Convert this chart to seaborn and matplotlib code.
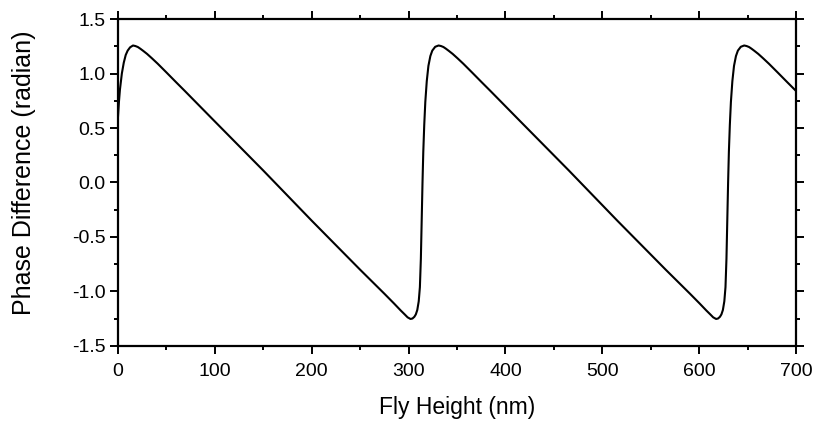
import numpy as np
import pandas as pd
import matplotlib
matplotlib.use('Agg')
import matplotlib.pyplot as plt
from matplotlib.ticker import MultipleLocator, FormatStrFormatter
import seaborn as sns

# values (fly height in nm, phase in radian)
fly_height = [0, 1, 2, 4, 6, 8, 10, 12.5, 15.5, 18, 20.5, 23, 26, 30, 35, 41, 50, 60,
              69, 100, 150, 200, 250, 275, 285, 292, 296, 299, 302, 304, 306, 307.5,
              309, 310.5, 311.7, 312.7, 313.6, 314.4, 315.2, 316.2, 317.3, 318.8,
              320.5, 322.5, 324.5, 327.5, 331,
              333.5, 336, 338.5, 341.5, 345.5, 350.5, 356.5, 365.5, 375.5, 384.5,
              415.5, 465.5, 515.5, 565.5, 590.5, 600.5, 607.5, 611.5, 614.5, 617.5,
              619.5, 621.5, 623, 624.5, 626, 627.2, 628.2, 629.1, 629.9, 630.7, 631.7,
              632.8, 634.3, 636, 638, 640, 643, 646.5,
              649, 651.5, 654, 657, 661, 666, 672, 681, 691, 700]
phase = [0.6, 0.74, 0.85, 1.0, 1.1, 1.17, 1.21, 1.24, 1.257, 1.252, 1.243, 1.228,
         1.208, 1.18, 1.14, 1.09, 1.01, 0.92,
         0.84, 0.56, 0.11, -0.35, -0.80, -1.02, -1.11, -1.175, -1.21, -1.237, -1.252,
         -1.248, -1.232, -1.21,
         -1.17, -1.09, -0.96, -0.7, -0.33, 0.0, 0.28, 0.53, 0.74, 0.93,
         1.07, 1.16, 1.21, 1.245, 1.257,
         1.252, 1.243, 1.228, 1.208, 1.18, 1.14, 1.09, 1.01, 0.92, 0.84,
         0.56, 0.11, -0.35, -0.80, -1.02, -1.11, -1.175, -1.21, -1.237, -1.252,
         -1.248, -1.232, -1.21, -1.17, -1.09, -0.96, -0.7, -0.33, 0.0, 0.28, 0.53,
         0.74, 0.93, 1.07, 1.16, 1.21, 1.245, 1.257,
         1.252, 1.243, 1.228, 1.208, 1.18, 1.14, 1.09, 1.01, 0.92, 0.84]

df = pd.DataFrame({'h': fly_height, 'phase': phase})

sns.set_style('white')
plt.rcParams['font.family'] = ['Liberation Sans', 'DejaVu Sans']
plt.rcParams['text.color'] = 'black'
plt.rcParams['axes.labelcolor'] = 'black'
plt.rcParams['xtick.color'] = 'black'
plt.rcParams['ytick.color'] = 'black'

fig = plt.figure(figsize=(8.17, 4.28), dpi=100)
ax = fig.add_axes([0.1444, 0.1916, 0.8299, 0.764])

sns.lineplot(data=df, x='h', y='phase', color='black', linewidth=1.5, ax=ax, sort=False)

ax.set_xlim(0, 700)
ax.set_ylim(-1.5, 1.5)
ax.xaxis.set_major_locator(MultipleLocator(100))
ax.xaxis.set_minor_locator(MultipleLocator(50))
ax.yaxis.set_major_locator(MultipleLocator(0.5))
ax.yaxis.set_minor_locator(MultipleLocator(0.25))
ax.yaxis.set_major_formatter(FormatStrFormatter('%.1f'))

for s in ax.spines.values():
    s.set_color('black')
    s.set_linewidth(1.6)

ax.tick_params(which='both', direction='out', top=True, bottom=True, left=True,
               right=True, labelsize=14, colors='black', width=1.4)
ax.tick_params(which='major', length=6, pad=3)
ax.tick_params(which='minor', length=3)
ax.tick_params(axis='x', which='major', pad=6)

ax.set_xlabel('Fly Height (nm)', fontsize=16.5, labelpad=12)
ax.set_ylabel('Phase Difference (radian)', fontsize=18)
ax.yaxis.set_label_coords(-0.121, 0.53)

fig.savefig('out.png', dpi=100)
